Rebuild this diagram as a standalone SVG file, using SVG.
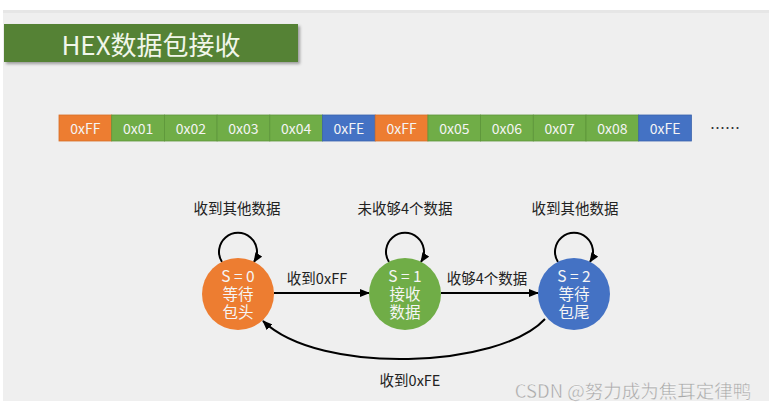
<svg xmlns="http://www.w3.org/2000/svg" width="774" height="409" viewBox="0 0 774 409">
<defs>
<marker id="arr" markerWidth="10" markerHeight="8" refX="9" refY="4" orient="auto" markerUnits="userSpaceOnUse">
<path d="M0,0 L10,4 L0,8 Z" fill="#000"/>
</marker>
<filter id="sh" x="-5%" y="-20%" width="115%" height="150%">
<feDropShadow dx="2" dy="2" stdDeviation="1.5" flood-color="#000" flood-opacity="0.35"/>
</filter>
</defs>
<style>
text{font-family:"Noto Sans CJK SC","Noto Sans",sans-serif;text-anchor:middle;dominant-baseline:central}
.cell text{font-size:14px;fill:#f4f4f4}
.o{fill:#ED7D31;stroke:#d86e26;stroke-width:0.8}
.g{fill:#70AD47;stroke:#5d953a;stroke-width:0.8}
.b{fill:#4472C4;stroke:#3b63ad;stroke-width:0.8}
.lbl{font-size:14.5px;fill:#222}
.st{font-size:15.5px;fill:#f5f5f5}
.edge{fill:none;stroke:#000;stroke-width:2;marker-end:url(#arr)}
</style>
<rect width="774" height="409" fill="#fff"/>
<rect x="3" y="10" width="766" height="391" fill="#efefef"/>
<rect x="3" y="10" width="766" height="3" fill="#e6e6e6"/>
<g id="title">
<rect x="4" y="24" width="294" height="38" fill="#548235" filter="url(#sh)"/>
<text x="151" y="43" style="font-size:26px;fill:#f1f6ea">HEX数据包接收</text>
</g>
<g id="bytes" class="cell">
<rect class="o" x="59" y="115" width="52.7" height="26"/><text x="85.4" y="128">0xFF</text>
<rect class="g" x="111.7" y="115" width="52.7" height="26"/><text x="138.1" y="128">0x01</text>
<rect class="g" x="164.4" y="115" width="52.7" height="26"/><text x="190.8" y="128">0x02</text>
<rect class="g" x="217.1" y="115" width="52.7" height="26"/><text x="243.5" y="128">0x03</text>
<rect class="g" x="269.8" y="115" width="52.7" height="26"/><text x="296.2" y="128">0x04</text>
<rect class="b" x="322.5" y="115" width="52.7" height="26"/><text x="348.9" y="128">0xFE</text>
<rect class="o" x="375.2" y="115" width="52.7" height="26"/><text x="401.6" y="128">0xFF</text>
<rect class="g" x="427.9" y="115" width="52.7" height="26"/><text x="454.3" y="128">0x05</text>
<rect class="g" x="480.6" y="115" width="52.7" height="26"/><text x="507" y="128">0x06</text>
<rect class="g" x="533.3" y="115" width="52.7" height="26"/><text x="559.7" y="128">0x07</text>
<rect class="g" x="586" y="115" width="52.7" height="26"/><text x="612.4" y="128">0x08</text>
<rect class="b" x="638.7" y="115" width="52.7" height="26"/><text x="665.1" y="128">0xFE</text>
<text x="725" y="127" style="font-size:15px;fill:#333">……</text>
</g>
<g id="connectors">
<path class="edge" d="M222,262 A19,19 0 1 1 254,262"/>
<path class="edge" d="M389,262 A19,19 0 1 1 421,262"/>
<path class="edge" d="M558,262 A19,19 0 1 1 590,262"/>
<path class="edge" d="M274,293 L369,293"/>
<path class="edge" d="M441,293 L538,293"/>
<path class="edge" d="M545,319 C500,368 320,376 263,321"/>
<text class="lbl" x="237" y="207">收到其他数据</text>
<text class="lbl" x="405" y="207">未收够4个数据</text>
<text class="lbl" x="575" y="207">收到其他数据</text>
<text class="lbl" x="317" y="277">收到0xFF</text>
<text class="lbl" x="487" y="277">收够4个数据</text>
<text class="lbl" x="410" y="379">收到0xFE</text>
</g>
<g id="s0">
<circle cx="238" cy="294" r="36" fill="#ED7D31"/>
<text class="st" x="238" y="275"><tspan x="238" y="275">S = 0</tspan><tspan x="238" y="293">等待</tspan><tspan x="238" y="311">包头</tspan></text>
</g>
<g id="s1">
<circle cx="405" cy="294" r="36" fill="#70AD47"/>
<text class="st" x="405" y="275"><tspan x="405" y="275">S = 1</tspan><tspan x="405" y="293">接收</tspan><tspan x="405" y="311">数据</tspan></text>
</g>
<g id="s2">
<circle cx="574" cy="294" r="36" fill="#4472C4"/>
<text class="st" x="574" y="275"><tspan x="574" y="275">S = 2</tspan><tspan x="574" y="293">等待</tspan><tspan x="574" y="311">包尾</tspan></text>
</g>
<text x="633" y="390" style="font-size:18.5px;fill:#a8a8a8;stroke:#fff;stroke-width:0.3">CSDN @努力成为焦耳定律鸭</text>
</svg>
